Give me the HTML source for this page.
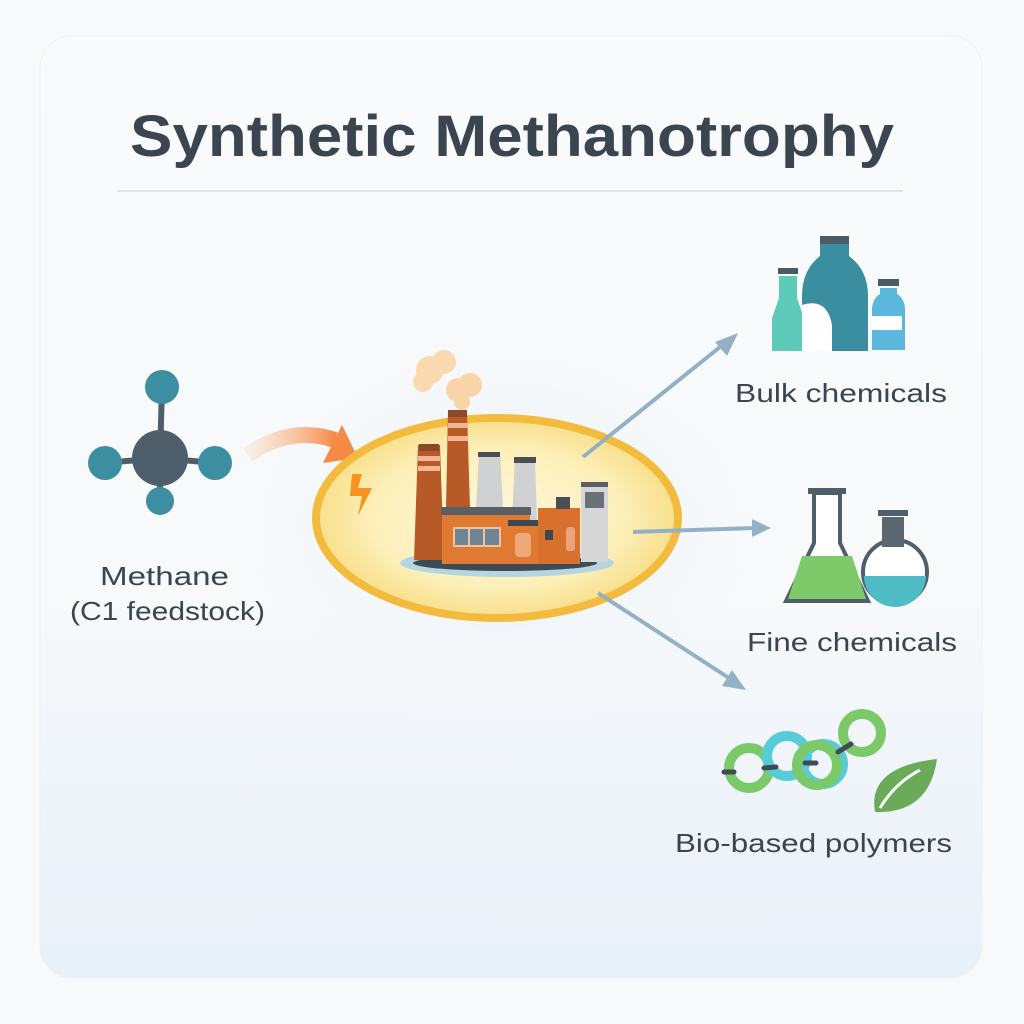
<!DOCTYPE html>
<html><head><meta charset="utf-8"><style>
html,body{margin:0;padding:0;background:#f7f9fb;}
svg{display:block}
text{font-family:"Liberation Sans","DejaVu Sans",sans-serif;fill:#3b4550}
</style></head><body>
<svg width="1024" height="1024" viewBox="0 0 1024 1024">
<defs>
<linearGradient id="card" x1="0" y1="0" x2="0" y2="1">
<stop offset="0" stop-color="#f9fafc"/><stop offset="0.6" stop-color="#f7f9fb"/><stop offset="1" stop-color="#e8f0f8"/>
</linearGradient>
<radialGradient id="cell" cx="0.5" cy="0.5" r="0.5">
<stop offset="0" stop-color="#fff8dc"/><stop offset="0.7" stop-color="#fcefb8"/><stop offset="1" stop-color="#f8df8a"/>
</radialGradient>
<linearGradient id="oarr" x1="0" y1="0" x2="1" y2="0">
<stop offset="0" stop-color="#fbd2b4" stop-opacity="0.3"/><stop offset="1" stop-color="#f58a45"/>
</linearGradient>
<radialGradient id="glow" cx="0.5" cy="0.5" r="0.5">
<stop offset="0" stop-color="#e6eef6" stop-opacity="0.9"/><stop offset="1" stop-color="#f7f9fb" stop-opacity="0"/>
</radialGradient>
</defs>
<rect x="0" y="0" width="1024" height="1024" fill="#f8f9fb"/>
<rect x="40" y="36" width="942" height="942" rx="32" fill="url(#card)" stroke="#eef1f5"/>
<text x="130" y="156" font-size="58" font-weight="bold" textLength="764" lengthAdjust="spacingAndGlyphs" fill="#3d4752">Synthetic Methanotrophy</text>
<line x1="117" y1="191" x2="903" y2="191" stroke="#e1e5ea" stroke-width="2"/>
<ellipse cx="500" cy="520" rx="300" ry="220" fill="url(#glow)"/>

<!-- methane -->
<g stroke="#4f5e6b" stroke-width="6">
<line x1="160" y1="458" x2="162" y2="387"/><line x1="160" y1="458" x2="105" y2="463"/>
<line x1="160" y1="458" x2="215" y2="463"/><line x1="160" y1="458" x2="160" y2="500"/>
</g>
<circle cx="162" cy="387" r="17" fill="#3b8fa0"/>
<circle cx="105" cy="463" r="17" fill="#3b8fa0"/>
<circle cx="215" cy="463" r="17" fill="#3b8fa0"/>
<circle cx="160" cy="501" r="14" fill="#3b8fa0"/>
<circle cx="160" cy="458" r="28" fill="#4f5e6b"/>
<text x="100" y="585" font-size="26" textLength="129" lengthAdjust="spacingAndGlyphs">Methane</text>
<text x="70" y="620" font-size="26" textLength="195" lengthAdjust="spacingAndGlyphs">(C1 feedstock)</text>

<!-- orange arrow -->
<path d="M248 455 Q290 425 335 440" fill="none" stroke="url(#oarr)" stroke-width="16"/>
<polygon points="342,425 358,458 323,463" fill="#f58a45"/>

<!-- cell -->
<ellipse cx="497" cy="518" rx="181" ry="100" fill="url(#cell)" stroke="#f3bb3e" stroke-width="8"/>
<polygon points="352,474 362,474 358,488 372,488 358,516 362,496 350,496" fill="#f7931e"/>
<ellipse cx="507" cy="563" rx="107" ry="14" fill="#b7d5e0"/>
<ellipse cx="505" cy="563" rx="92" ry="8" fill="#3d4b57"/>
<!-- smoke -->
<circle cx="430" cy="370" r="14" fill="#fbd9b0"/><circle cx="444" cy="362" r="12" fill="#fbd9b0"/>
<circle cx="423" cy="382" r="10" fill="#fbd9b0"/><circle cx="458" cy="390" r="12" fill="#f9d4a8"/>
<circle cx="470" cy="385" r="12" fill="#f9d4a8"/><circle cx="462" cy="402" r="8" fill="#f9d4a8"/>
<!-- chimneys -->
<polygon points="418,445 440,445 444,560 414,560" fill="#b85a28"/>
<rect x="418" y="456" width="22" height="5" fill="#f2b694"/><rect x="418" y="466" width="22" height="5" fill="#f2b694"/>
<rect x="419" y="444" width="20" height="7" fill="#8a4a2a"/>
<polygon points="448,411 467,411 470,508 446,508" fill="#b85a28"/>
<rect x="448" y="423" width="20" height="5" fill="#f2b694"/><rect x="448" y="436" width="20" height="5" fill="#f2b694"/>
<rect x="448" y="410" width="19" height="7" fill="#8a4a2a"/>
<polygon points="479,453 500,453 503,508 476,508" fill="#cfd1d3"/><rect x="478" y="452" width="22" height="5" fill="#4a4f55"/>
<polygon points="515,459 535,459 537,520 512,520" fill="#cfd1d3"/><rect x="514" y="457" width="22" height="6" fill="#4a4f55"/>
<!-- buildings -->
<rect x="442" y="507" width="88" height="57" fill="#e07a33"/>
<rect x="441" y="507" width="90" height="8" fill="#5a5f66"/>
<rect x="508" y="520" width="32" height="44" fill="#e07a33"/><rect x="508" y="520" width="32" height="6" fill="#3f464d"/>
<rect x="538" y="508" width="42" height="56" fill="#d8702e"/>
<rect x="556" y="497" width="14" height="12" fill="#4a4f55"/>
<rect x="581" y="484" width="27" height="78" fill="#d6d6d6"/><rect x="581" y="482" width="27" height="5" fill="#5a5f66"/>
<rect x="585" y="492" width="19" height="16" fill="#6b7078"/>
<rect x="453" y="527" width="48" height="20" fill="#f2c29c"/>
<rect x="455" y="529" width="13" height="16" fill="#6e8595"/><rect x="470" y="529" width="13" height="16" fill="#6e8595"/><rect x="485" y="529" width="14" height="16" fill="#6e8595"/>
<rect x="515" y="533" width="16" height="24" rx="4" fill="#f0a878"/>
<rect x="545" y="530" width="8" height="10" fill="#3f464d"/>
<rect x="566" y="527" width="9" height="24" rx="3" fill="#eaa37e"/>

<!-- blue arrows -->
<g stroke="#93b0c4" stroke-width="4" fill="#93b0c4">
<line x1="583" y1="457" x2="725" y2="343"/>
<line x1="633" y1="532" x2="755" y2="528"/>
<line x1="598" y1="593" x2="732" y2="680"/>
</g>
<polygon points="738,333 715,342 727,356" fill="#93b0c4"/>
<polygon points="771,528 752,519 752,537" fill="#93b0c4"/>
<polygon points="746,690 722,686 732,670" fill="#93b0c4"/>

<!-- bottles -->
<path d="M779 276 h18 v22 l7 20 v33 h-32 v-33 l7 -20z" fill="#5ecbb8"/>
<rect x="778" y="268" width="20" height="6" fill="#4a5a66"/>
<path d="M820 244 h29 v12 q19 14 19 40 v55 h-66 v-55 q0 -26 18 -40z" fill="#3a8ea0"/>
<rect x="820" y="236" width="29" height="8" fill="#4a5a66"/>
<path d="M802 305 q25 -8 30 20 v26 h-30z" fill="#ffffff"/>
<path d="M880 288 h17 v6 q8 5 8 16 v40 h-33 v-40 q0 -11 8 -16z" fill="#5bb8dc"/>
<rect x="878" y="279" width="21" height="7" fill="#4a5a66"/>
<rect x="872" y="316" width="30" height="14" fill="#ffffff"/>
<text x="735" y="402" font-size="26" textLength="212" lengthAdjust="spacingAndGlyphs">Bulk chemicals</text>

<!-- flasks -->
<path d="M814 493 v50 l-28 58 h82 l-28 -58 v-50z" fill="#ffffff" stroke="#4f5e6b" stroke-width="4"/>
<polygon points="802,556 852,556 866,599 788,599" fill="#7ec96a"/>
<rect x="808" y="488" width="38" height="6" fill="#4f5e6b"/>
<circle cx="895" cy="572" r="32" fill="#ffffff" stroke="#4f5e6b" stroke-width="4"/>
<path d="M864 576 h62 a31 31 0 0 1 -62 0z" fill="#4fbbc4"/>
<rect x="882" y="517" width="22" height="30" fill="#5a6670"/>
<rect x="878" y="510" width="30" height="6" fill="#4f5e6b"/>
<text x="747" y="651" font-size="26" textLength="210" lengthAdjust="spacingAndGlyphs">Fine chemicals</text>

<!-- polymers -->
<g stroke-width="10" fill="none">
<circle cx="749" cy="768" r="20" stroke="#7cc96a"/>
<circle cx="787" cy="756" r="20" stroke="#58ccd6"/>
<circle cx="823" cy="764" r="20" stroke="#58ccd6"/>
<circle cx="817" cy="765" r="20" stroke="#7cc96a"/>
<circle cx="862" cy="733" r="19" stroke="#7cc96a"/>
</g>
<g stroke="#3f4a55" stroke-width="5" stroke-linecap="round">
<line x1="724" y1="772" x2="734" y2="772"/><line x1="764" y1="768" x2="776" y2="767"/>
<line x1="805" y1="763" x2="816" y2="763"/><line x1="838" y1="752" x2="851" y2="744"/>
</g>
<path d="M875 812 q-8 -45 62 -53 q-8 55 -62 53z" fill="#6aaa58"/>
<path d="M880 808 q15 -25 40 -38" stroke="#f7f9fb" stroke-width="3" fill="none"/>
<text x="675" y="852" font-size="26" textLength="277" lengthAdjust="spacingAndGlyphs">Bio-based polymers</text>
</svg>
</body></html>
